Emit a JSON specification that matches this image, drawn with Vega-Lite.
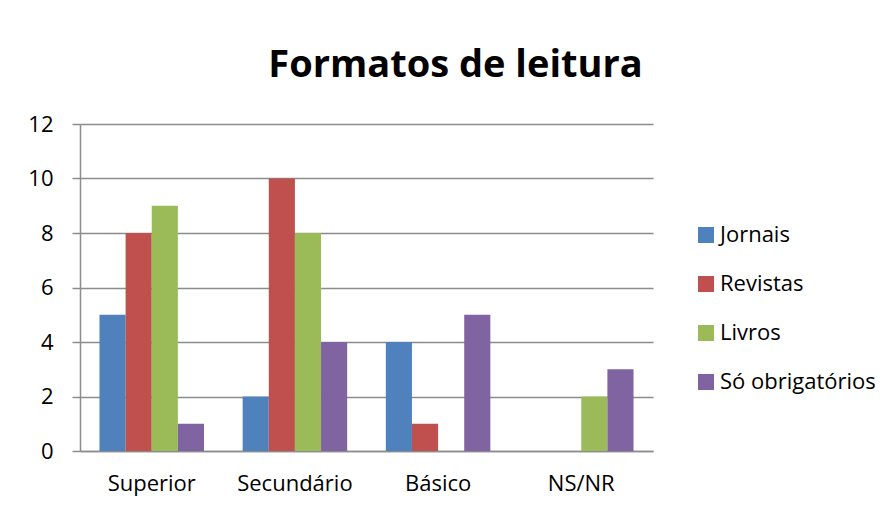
{
  "$schema": "https://vega.github.io/schema/vega-lite/v6.json",
  "autosize": {"type": "none"},
  "width": 573,
  "height": 327,
  "padding": {"left": 80, "top": 124, "right": 241, "bottom": 60},
  "background": "white",
  "title": {
    "text": "Formatos de leitura",
    "font": "Open Sans",
    "fontSize": 38,
    "fontWeight": "bold",
    "color": "#000000",
    "anchor": "middle",
    "dx": 89,
    "offset": 28
  },
  "data": {
    "values": [
      {"nivel": "Superior", "formato": "Jornais", "valor": 5},
      {"nivel": "Superior", "formato": "Revistas", "valor": 8},
      {"nivel": "Superior", "formato": "Livros", "valor": 9},
      {"nivel": "Superior", "formato": "Só obrigatórios", "valor": 1},
      {"nivel": "Secundário", "formato": "Jornais", "valor": 2},
      {"nivel": "Secundário", "formato": "Revistas", "valor": 10},
      {"nivel": "Secundário", "formato": "Livros", "valor": 8},
      {"nivel": "Secundário", "formato": "Só obrigatórios", "valor": 4},
      {"nivel": "Básico", "formato": "Jornais", "valor": 4},
      {"nivel": "Básico", "formato": "Revistas", "valor": 1},
      {"nivel": "Básico", "formato": "Livros", "valor": 0},
      {"nivel": "Básico", "formato": "Só obrigatórios", "valor": 5},
      {"nivel": "NS/NR", "formato": "Jornais", "valor": 0},
      {"nivel": "NS/NR", "formato": "Revistas", "valor": 0},
      {"nivel": "NS/NR", "formato": "Livros", "valor": 2},
      {"nivel": "NS/NR", "formato": "Só obrigatórios", "valor": 3}
    ]
  },
  "mark": {"type": "bar"},
  "encoding": {
    "x": {
      "field": "nivel",
      "type": "nominal",
      "sort": ["Superior", "Secundário", "Básico", "NS/NR"],
      "scale": {"paddingInner": 0.27, "paddingOuter": 0.136},
      "axis": {
        "title": null,
        "labelAngle": 0,
        "ticks": false,
        "labelFont": "Open Sans",
        "labelFontSize": 22,
        "labelColor": "#000000",
        "labelPadding": 22,
        "domainColor": "#8c8c8c",
        "domainWidth": 1.5,
        "grid": false
      }
    },
    "xOffset": {
      "field": "formato",
      "type": "nominal",
      "sort": ["Jornais", "Revistas", "Livros", "Só obrigatórios"],
      "scale": {"paddingInner": 0, "paddingOuter": 0}
    },
    "y": {
      "field": "valor",
      "type": "quantitative",
      "scale": {"domain": [0, 12], "nice": false},
      "axis": {
        "title": null,
        "values": [0, 2, 4, 6, 8, 10, 12],
        "labelFont": "Open Sans",
        "labelFontSize": 22,
        "labelColor": "#000000",
        "labelPadding": 19,
        "tickSize": 8,
        "tickColor": "#8c8c8c",
        "tickWidth": 1.5,
        "domainColor": "#8c8c8c",
        "domainWidth": 1.5,
        "gridColor": "#8c8c8c",
        "gridWidth": 1.5
      }
    },
    "color": {
      "field": "formato",
      "type": "nominal",
      "sort": ["Jornais", "Revistas", "Livros", "Só obrigatórios"],
      "scale": {
        "domain": ["Jornais", "Revistas", "Livros", "Só obrigatórios"],
        "range": ["#4F81BD", "#C0504D", "#9BBB59", "#8064A2"]
      },
      "legend": {
        "title": null,
        "orient": "none",
        "legendX": 615,
        "legendY": 100,
        "symbolType": "square",
        "symbolSize": 256,
        "symbolStrokeWidth": 0,
        "labelFont": "Open Sans",
        "labelFontSize": 22,
        "labelColor": "#000000",
        "labelOffset": 3,
        "rowPadding": 27
      }
    }
  },
  "config": {
    "view": {"stroke": null}
  }
}
